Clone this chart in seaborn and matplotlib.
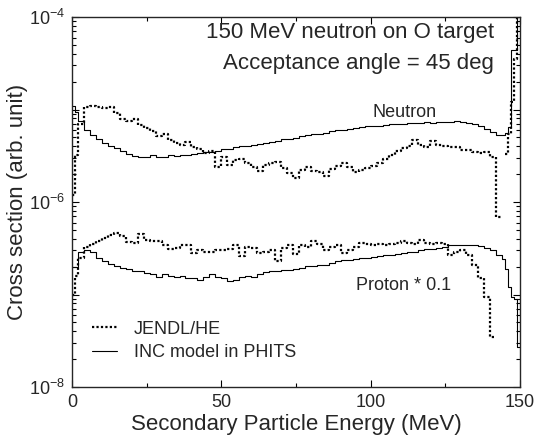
import numpy as np
import seaborn as sns
import matplotlib.pyplot as plt
from matplotlib.lines import Line2D
from matplotlib.ticker import LogLocator, FuncFormatter, MultipleLocator, NullFormatter

# energy bin edges (MeV): 1 MeV bins at both ends, 2 MeV bins in between
edges = [0, 1] + list(range(2, 144, 2)) + list(range(144, 151))

# neutron, INC model in PHITS
n_inc = [1.1e-5, 9.5e-6,
         7.6e-6, 6.0e-6, 5.3e-6, 4.8e-6, 4.35e-6, 4.0e-6, 3.8e-6, 3.55e-6, 3.3e-6, 3.15e-6,
         3.1e-6, 3.05e-6, 3.2e-6, 3.1e-6, 3.1e-6, 3.2e-6, 3.15e-6, 3.2e-6, 3.2e-6, 3.3e-6,
         3.35e-6, 3.45e-6, 3.5e-6, 3.55e-6, 3.7e-6, 3.75e-6, 3.9e-6, 4.0e-6, 4.05e-6, 4.15e-6,
         4.25e-6, 4.35e-6, 4.45e-6, 4.6e-6, 4.75e-6, 4.85e-6, 4.95e-6, 5.15e-6, 5.3e-6, 5.4e-6,
         5.5e-6, 5.6e-6, 5.8e-6, 6.0e-6, 6.05e-6, 6.2e-6, 6.3e-6, 6.4e-6, 6.6e-6, 6.6e-6,
         6.7e-6, 6.8e-6, 6.9e-6, 6.95e-6, 7.05e-6, 7.1e-6, 7.1e-6, 7.2e-6, 7.3e-6, 7.2e-6,
         7.3e-6, 7.4e-6, 7.4e-6, 7.5e-6, 7.4e-6, 7.2e-6, 6.95e-6, 6.6e-6, 6.2e-6, 5.75e-6,
         5.3e-6,
         5.3e-6, 5.6e-6, 6.5e-6, 4.4e-5, 4.4e-5, 2e-4]

# neutron, JENDL/HE
n_jendl = [1.2e-6, 3.2e-6,
           7.0e-6, 1.06e-5, 1.1e-5, 1.06e-5, 1.03e-5, 1.06e-5, 9.1e-6, 7.9e-6, 7.5e-6, 7.9e-6,
           6.8e-6, 6.3e-6, 5.85e-6, 5.2e-6, 5.45e-6, 4.7e-6, 4.35e-6, 4.1e-6, 4.45e-6, 3.9e-6,
           3.7e-6, 3.4e-6, 3.6e-6, 2.4e-6, 3.05e-6, 2.5e-6, 2.85e-6, 2.95e-6, 2.65e-6, 2.4e-6,
           2.15e-6, 2.5e-6, 2.65e-6, 2.7e-6, 2.35e-6, 2.05e-6, 1.8e-6, 2.2e-6, 2.4e-6, 2.15e-6,
           2.1e-6, 1.9e-6, 2.25e-6, 2.45e-6, 2.65e-6, 2.4e-6, 2.1e-6, 2.2e-6, 2.35e-6, 2.45e-6,
           2.65e-6, 2.9e-6, 3.2e-6, 3.55e-6, 3.8e-6, 4.0e-6, 4.7e-6, 4.1e-6, 3.9e-6, 4.55e-6,
           4.1e-6, 4.0e-6, 3.9e-6, 3.9e-6, 3.65e-6, 3.65e-6, 3.5e-6, 3.4e-6, 3.5e-6, 3.05e-6,
           6.9e-7,
           np.nan, 3.3e-6, 5.5e-6, 1.2e-5, 3.5e-5, 2e-4]

# proton * 0.1, INC model in PHITS
p_inc = [2.0e-7, 2.0e-7,
         2.85e-7, 3.0e-7, 2.85e-7, 2.5e-7, 2.3e-7, 2.15e-7, 2.05e-7, 1.95e-7, 1.9e-7, 1.8e-7,
         1.78e-7, 1.72e-7, 1.65e-7, 1.55e-7, 1.65e-7, 1.6e-7, 1.55e-7, 1.6e-7, 1.5e-7, 1.5e-7,
         1.45e-7, 1.55e-7, 1.65e-7, 1.55e-7, 1.5e-7, 1.4e-7, 1.45e-7, 1.55e-7, 1.58e-7, 1.55e-7,
         1.65e-7, 1.75e-7, 1.78e-7, 1.8e-7, 1.85e-7, 1.85e-7, 1.88e-7, 1.95e-7, 2.05e-7, 2.05e-7,
         2.1e-7, 2.1e-7, 2.2e-7, 2.3e-7, 2.35e-7, 2.35e-7, 2.45e-7, 2.5e-7, 2.5e-7, 2.55e-7,
         2.6e-7, 2.65e-7, 2.65e-7, 2.75e-7, 2.8e-7, 2.85e-7, 2.9e-7, 3.0e-7, 3.1e-7, 3.1e-7,
         3.2e-7, 3.3e-7, 3.4e-7, 3.45e-7, 3.45e-7, 3.45e-7, 3.4e-7, 3.35e-7, 3.2e-7, 3.0e-7,
         2.7e-7,
         2.4e-7, 1.9e-7, 1.2e-7, 9.5e-8, 9.0e-8, 2.7e-8]

# proton * 0.1, JENDL/HE
p_jendl = [1.0e-7, 1.6e-7,
           2.5e-7, 3.3e-7, 3.55e-7, 3.8e-7, 4.1e-7, 4.35e-7, 4.6e-7, 4.3e-7, 3.7e-7, 3.6e-7,
           4.5e-7, 3.9e-7, 3.8e-7, 3.8e-7, 3.4e-7, 3.1e-7, 3.2e-7, 3.4e-7, 3.45e-7, 2.8e-7,
           3.0e-7, 2.9e-7, 2.85e-7, 3.0e-7, 3.05e-7, 3.1e-7, 3.4e-7, 2.6e-7, 3.3e-7, 3.2e-7,
           2.8e-7, 2.9e-7, 3.0e-7, 2.3e-7, 3.2e-7, 3.4e-7, 2.75e-7, 3.4e-7, 3.3e-7, 3.8e-7,
           3.5e-7, 3.0e-7, 3.3e-7, 3.45e-7, 2.8e-7, 3.0e-7, 3.3e-7, 3.6e-7, 3.5e-7, 3.4e-7,
           3.5e-7, 3.45e-7, 3.5e-7, 3.6e-7, 3.75e-7, 3.6e-7, 3.5e-7, 3.9e-7, 3.6e-7, 3.55e-7,
           3.6e-7, 3.55e-7, 2.7e-7, 2.9e-7, 3.0e-7, 2.7e-7, 2.1e-7, 1.5e-7, 9.4e-8, 3.5e-8,
           np.nan,
           np.nan, np.nan, np.nan, np.nan, np.nan, np.nan]

sns.set_style("ticks")
plt.rcParams['font.family'] = ['Liberation Sans', 'DejaVu Sans']
plt.rcParams['axes.linewidth'] = 1.0

fig = plt.figure(figsize=(5.34, 4.36), dpi=100)
ax = fig.add_axes([72 / 534, 1 - 387 / 436, 448 / 534, 370 / 436])
ax.set_yscale("log")

dotted = dict(color="black", lw=1.6, linestyle=(0, (1, 1)))
solid = dict(color="black", lw=0.8, linestyle="-")


def draw_steps(values, **kws):
    # draw a histogram as steps, leaving gaps where a bin is empty
    vals = np.array(values, dtype=float)
    x = np.array(edges, dtype=float)
    ok = ~np.isnan(vals)
    i = 0
    while i < len(vals):
        if not ok[i]:
            i += 1
            continue
        j = i
        while j < len(vals) and ok[j]:
            j += 1
        xs = x[i:j + 1]
        ys = np.append(vals[i:j], vals[j - 1])
        sns.lineplot(x=xs, y=ys, ax=ax, estimator=None, sort=False,
                     drawstyle="steps-post", legend=False, **kws)
        i = j


draw_steps(n_inc, **solid)
draw_steps(p_inc, **solid)
draw_steps(n_jendl, **dotted)
draw_steps(p_jendl, **dotted)

ax.set_xlim(0, 150)
ax.set_ylim(1e-8, 1e-4)

ax.xaxis.set_major_locator(MultipleLocator(50))
ax.xaxis.set_minor_locator(MultipleLocator(25))
ax.yaxis.set_major_locator(LogLocator(base=10, numticks=10))
ax.yaxis.set_minor_locator(LogLocator(base=10, subs=np.arange(2, 10), numticks=20))
ax.yaxis.set_minor_formatter(NullFormatter())


def ylab(v, pos):
    e = int(round(np.log10(v)))
    return r'$\mathdefault{10^{%d}}$' % e if e % 2 == 0 else ''


ax.yaxis.set_major_formatter(FuncFormatter(ylab))
ax.tick_params(which="both", direction="in", top=True, right=True,
               labelsize=13, width=0.8, color="black", pad=5)
ax.tick_params(which="major", length=5)
ax.tick_params(which="minor", length=3)

ax.set_xlabel("Secondary Particle Energy (MeV)", fontsize=16, labelpad=2)
ax.set_ylabel("Cross section (arb. unit)", fontsize=16)
ax.yaxis.set_label_coords(-0.098, 0.5)

ax.text(141.3, 5.93e-5, "150 MeV neutron on O target", fontsize=16,
        ha="right", va="baseline")
ax.text(141.3, 2.74e-5, "Acceptance angle = 45 deg", fontsize=16,
        ha="right", va="baseline")
ax.text(111.3, 8.3e-6, "Neutron", fontsize=13, ha="center", va="baseline")
ax.text(110.9, 1.12e-7, "Proton * 0.1", fontsize=13, ha="center", va="baseline")

handles = [Line2D([], [], **dotted), Line2D([], [], **solid)]
ax.legend(handles, ["JENDL/HE", "INC model in PHITS"], loc="lower left",
          bbox_to_anchor=(0.045, 0.07), frameon=False, fontsize=13,
          handlelength=1.4, handletextpad=0.9, borderpad=0, borderaxespad=0,
          labelspacing=0.35)

fig.savefig("out.png", dpi=100)
